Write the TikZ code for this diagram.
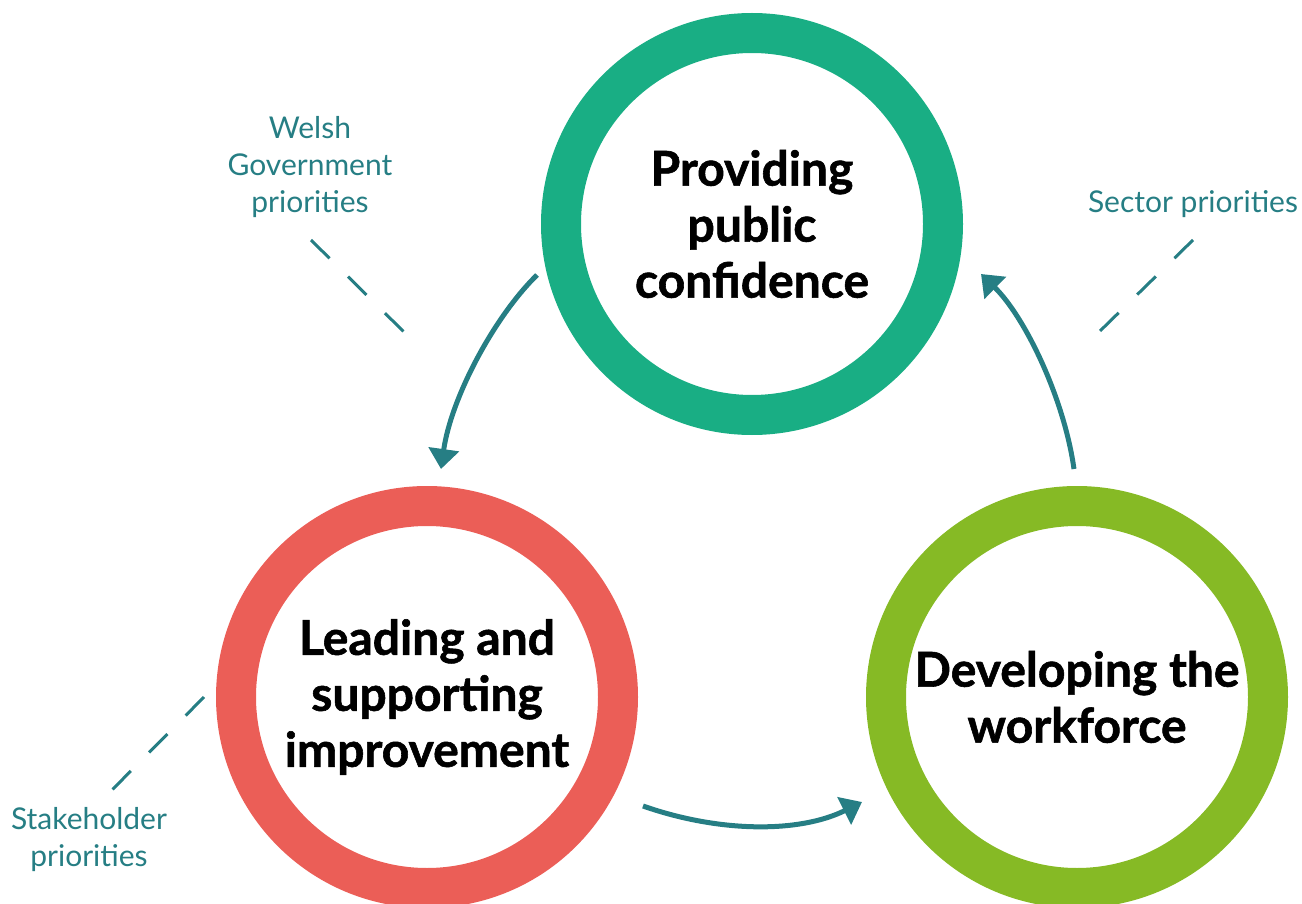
\documentclass[tikz,border=0pt]{standalone}
\usepackage{fontspec}
\setmainfont{Lato}
\newfontfamily\heavyfont[FakeBold=1.2]{Lato Bold}
\usetikzlibrary{arrows.meta}
\definecolor{cgreen}{HTML}{19AE84}
\definecolor{cred}{HTML}{EB5E57}
\definecolor{clime}{HTML}{86BA25}
\definecolor{cteal}{HTML}{267E84}
\tikzset{
  ring/.style={circle, line width=40pt, minimum size=382pt, inner sep=0pt, align=center,
    font=\heavyfont\fontsize{48}{56}\selectfont},
  cyc/.style={cteal, line width=5pt, -{Triangle[width=30pt,length=20pt]}},
  lbl/.style={text=cteal, align=center, font=\fontsize{30}{37}\selectfont, inner sep=0pt},
  guide/.style={cteal, line width=3pt, dash pattern=on 26pt off 26pt}
}
\begin{document}
\begin{tikzpicture}[x=1pt,y=-1pt]
\useasboundingbox (0,0) rectangle (1302,904);
\node[ring, draw=cgreen] (pub) at (752,224) {Providing\\public\\confidence};
\node[ring, draw=cred] (lead) at (427,697) {Leading and\\supporting\\improvement};
\node[ring, draw=clime] (dev) at (1077,697) {Developing the\\workforce};

\coordinate (a1s) at (537,275);
\coordinate (a1e) at (441,469);
\coordinate (a2s) at (1074,469);
\coordinate (a2e) at (981,274);
\coordinate (a3s) at (643,806);
\coordinate (a3e) at (862,802);
\draw[cyc] (a1s) .. controls (494,317) and (451,398) .. (a1e);
\draw[cyc] (a2s) .. controls (1064,398) and (1025,317) .. (a2e);
\draw[cyc] (a3s) .. controls (720,833) and (800,833) .. (a3e);

\node[lbl] (wg) at (310,167) {Welsh\\Government\\priorities};
\node[lbl] (sp) at (1193,204) {Sector priorities};
\node[lbl] (sh) at (89,840) {Stakeholder\\priorities};

\coordinate (wg1) at (311,240); \coordinate (wg2) at (404,332);
\coordinate (sp1) at (1193,240); \coordinate (sp2) at (1099,332);
\coordinate (sh1) at (204,697); \coordinate (sh2) at (111,791);
\draw[guide] (wg1) -- (wg2);
\draw[guide] (sp1) -- (sp2);
\draw[guide] (sh1) -- (sh2);
\end{tikzpicture}
\end{document}
